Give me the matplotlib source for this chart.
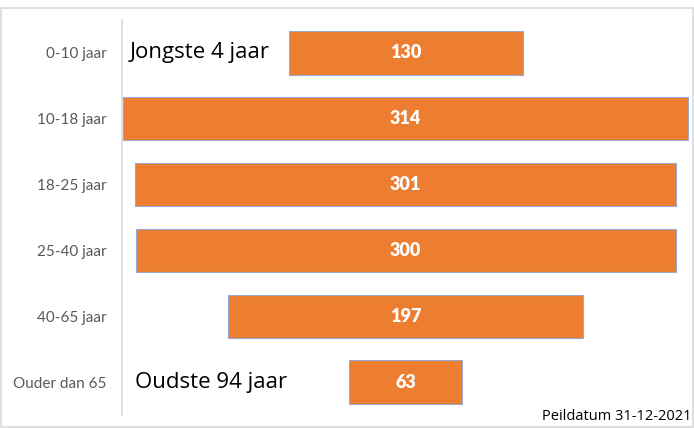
import matplotlib
matplotlib.use("Agg")
import matplotlib.pyplot as plt
from matplotlib.patches import Rectangle

# age groups and counts (top to bottom)
groups = ["0-10 jaar", "10-18 jaar", "18-25 jaar", "25-40 jaar", "40-65 jaar", "Ouder dan 65"]
counts = [130, 314, 301, 300, 197, 63]
notes = {0: "Jongste 4 jaar", 5: "Oudste 94 jaar"}
footnote = "Peildatum 31-12-2021"

orange = "#ED7D31"

fig = plt.figure(figsize=(6.94, 4.28), dpi=100)
ax = fig.add_axes([122 / 694, 13 / 428, 567 / 694, 395 / 428])

pos = list(range(len(groups)))
# funnel: bars centred around zero
lefts = [-c / 2 for c in counts]
ax.barh(pos, counts, left=lefts, height=0.66, color=orange,
        edgecolor="#9aa9cf", linewidth=0.8)

for i, c in enumerate(counts):
    ax.text(0, i, str(c), ha="center", va="center", color="white",
            fontsize=13, fontweight="heavy", family="Lato")

for i, txt in notes.items():
    ax.text(-157.5 + 4.5 + (2.5 if i == 5 else 0), i, txt, ha="left", va="center",
            color="black", fontsize=16, family="Open Sans")

ax.set_xlim(-157.5, 157.5)
ax.set_ylim(5.5, -0.5)
ax.set_yticks(pos)
ax.set_yticklabels(groups, family="Lato", fontsize=11, color="#595959")
ax.tick_params(axis="y", length=0, pad=11)
ax.set_xticks([])
for s in ["top", "right", "bottom"]:
    ax.spines[s].set_visible(False)
ax.spines["left"].set_color("#d9d9d9")
ax.spines["left"].set_linewidth(1.2)

fig.text(692 / 694, 1 - 417 / 428, footnote, ha="right", va="center",
         fontsize=10.5, family="Open Sans", color="black")

# thin frame around the picture
fig.patches.append(Rectangle((1 / 694, 1 / 428), 692 / 694, 419 / 428,
                             transform=fig.transFigure, fill=False,
                             edgecolor="#d9d9d9", linewidth=1.2))

fig.savefig("out.png", dpi=100)
